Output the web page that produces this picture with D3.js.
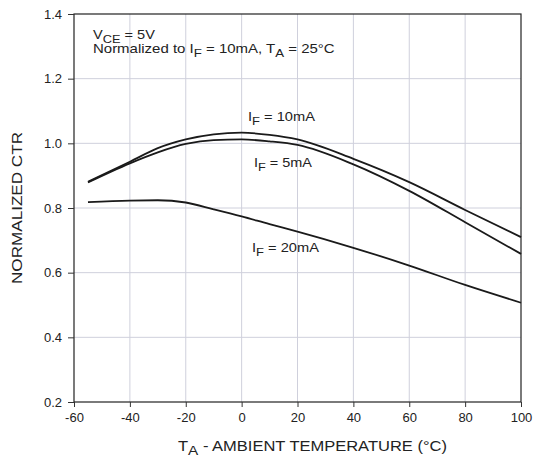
<!DOCTYPE html>
<html>
<head>
<meta charset="utf-8">
<script src="https://cdn.jsdelivr.net/npm/d3@7"></script>
<style>
  body { margin: 0; background: #fff; }
  svg { font-family: "Liberation Sans", Arial, sans-serif; }
</style>
</head>
<body>
<svg id="chart" width="533" height="464"></svg>
<script>
// temperature points (°C)
var temps = [-55, -40, -30, -20, -10, 0, 10, 20, 40, 60, 80, 100];
// normalized CTR for each forward current
var ctr10mA = [0.881, 0.943, 0.985, 1.012, 1.028, 1.033, 1.026, 1.012, 0.952, 0.880, 0.794, 0.710];
var ctr5mA  = [0.879, 0.938, 0.972, 0.998, 1.010, 1.012, 1.006, 0.995, 0.935, 0.853, 0.756, 0.658];
var ctr20mA = [0.818, 0.823, 0.824, 0.817, 0.796, 0.774, 0.750, 0.727, 0.677, 0.622, 0.562, 0.507];
var xTicks = [-60, -40, -20, 0, 20, 40, 60, 80, 100];
var yTicks = [0.2, 0.4, 0.6, 0.8, 1.0, 1.2, 1.4];

var margin = { top: 14, right: 12, bottom: 62, left: 74 };
var width = 533 - margin.left - margin.right;
var height = 464 - margin.top - margin.bottom;

var svg = d3.select('#chart')
  .append('g')
  .attr('transform', `translate(${margin.left},${margin.top})`);

var x = d3.scaleLinear().domain([-60, 100]).range([0, width]);
var y = d3.scaleLinear().domain([0.2, 1.4]).range([height, 0]);

// grid
svg.append('g').selectAll('line')
  .data(xTicks.slice(1, -1)).enter()
  .append('line')
  .attr('x1', d => x(d)).attr('x2', d => x(d))
  .attr('y1', 0).attr('y2', height)
  .attr('stroke', '#cfd0dc').attr('stroke-width', 1);
svg.append('g').selectAll('line')
  .data(yTicks.slice(1, -1)).enter()
  .append('line')
  .attr('x1', 0).attr('x2', width)
  .attr('y1', d => y(d)).attr('y2', d => y(d))
  .attr('stroke', '#cfd0dc').attr('stroke-width', 1);

// frame
svg.append('rect')
  .attr('width', width).attr('height', height)
  .attr('fill', 'none').attr('stroke', '#222').attr('stroke-width', 1.2);

// axes (hyphen minus like the datasheet)
var xAxis = d3.axisBottom(x).tickValues(xTicks).tickSize(5).tickPadding(6)
  .tickFormat(d => String(d));
var yAxis = d3.axisLeft(y).tickValues(yTicks).tickSize(6).tickPadding(6)
  .tickFormat(d3.format('.1f'));

var gx = svg.append('g').attr('transform', `translate(0,${height})`).call(xAxis);
var gy = svg.append('g').call(yAxis);
[gx, gy].forEach(g => {
  g.select('.domain').remove();
  g.selectAll('line').attr('stroke', '#333');
  g.selectAll('text').attr('fill', '#222').style('font-size', '13px')
    .style('font-family', '"Liberation Sans", Arial, sans-serif');
});

// curves
var line = d3.line()
  .x((d, i) => x(temps[i]))
  .y(d => y(d))
  .curve(d3.curveMonotoneX);

[ctr10mA, ctr5mA, ctr20mA].forEach(s => {
  svg.append('path')
    .attr('d', line(s))
    .attr('fill', 'none')
    .attr('stroke', '#1a1a1a')
    .attr('stroke-width', 1.8);
});

// stretch a text horizontally to the width it has in the datasheet
function fitWidth(t, target) {
  var w = t.node().getComputedTextLength();
  var x0 = +t.attr('x');
  var k = target / w;
  t.attr('transform', `translate(${x0},0) scale(${k},1) translate(${-x0},0)`);
}

// text with subscripts
function subText(g, px, py, parts, size) {
  var t = g.append('text').attr('x', px).attr('y', py)
    .attr('fill', '#222').style('font-size', size + 'px');
  parts.forEach(p => {
    var ts = t.append('tspan').text(p[0]);
    if (p[1]) ts.attr('dy', 4).style('font-size', (size - 1.5) + 'px');
    if (p[2]) ts.attr('dy', -4);
  });
  return t;
}

// curve labels
fitWidth(subText(svg, 174, 107.5, [['I'], ['F', 1], [' = 10mA', 0, 1]], 13), 67);
fitWidth(subText(svg, 180, 153.5, [['I'], ['F', 1], [' = 5mA', 0, 1]], 13), 58);
fitWidth(subText(svg, 178, 238.5, [['I'], ['F', 1], [' = 20mA', 0, 1]], 13), 67);

// conditions
fitWidth(subText(svg, 19, 25.5, [['V'], ['CE', 1], [' = 5V', 0, 1]], 12.5), 62);
fitWidth(subText(svg, 19, 39.5, [['Normalized to I'], ['F', 1], [' = 10mA, T', 0, 1], ['A', 1], [' = 25°C', 0, 1]], 13), 242);

// axis titles
var xt = svg.append('text')
  .attr('x', 104).attr('y', height + 49)
  .attr('fill', '#222').style('font-size', '14px');
xt.append('tspan').text('T');
xt.append('tspan').text('A').attr('dy', 4.5).style('font-size', '13px');
xt.append('tspan').text(' - AMBIENT TEMPERATURE (°C)').attr('dy', -4.5);
fitWidth(xt, 269);

var yt = svg.append('text')
  .attr('transform', `translate(${-52},${194}) rotate(-90)`)
  .attr('text-anchor', 'middle').attr('fill', '#222').style('font-size', '14px')
  .attr('textLength', 152).attr('lengthAdjust', 'spacingAndGlyphs')
  .text('NORMALIZED CTR');
</script>
</body>
</html>
